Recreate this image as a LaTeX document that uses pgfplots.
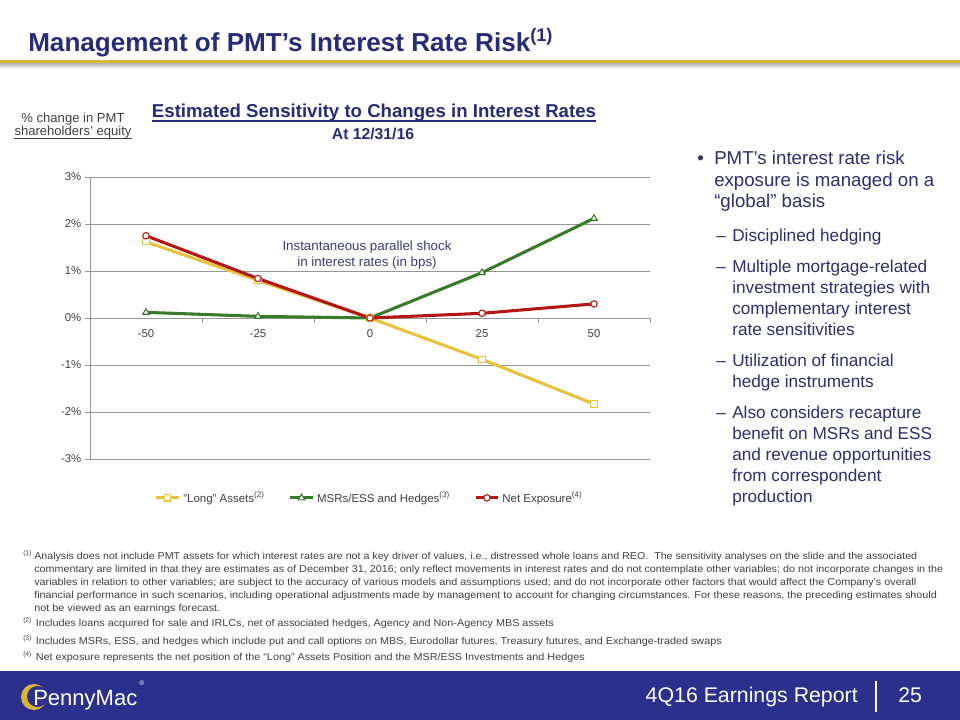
\documentclass[border=0pt]{standalone}
\usepackage{fontspec}
\setmainfont{Liberation Sans}
\usepackage{graphicx}
\usepackage{pgfplots}
\usepackage{pgfplotstable}
\pgfplotsset{compat=1.18}
\definecolor{navy}{RGB}{38,44,120}
\definecolor{band}{RGB}{44,48,140}
\definecolor{gold}{RGB}{218,183,50}
\definecolor{txtnavy}{RGB}{45,47,110}
\definecolor{fn}{RGB}{64,64,64}
\definecolor{lyellow}{RGB}{232,194,60}
\definecolor{lgreen}{RGB}{56,124,42}
\definecolor{lred}{RGB}{180,22,22}
\definecolor{gridc}{RGB}{150,150,150}
\definecolor{annot}{RGB}{60,60,120}
\newcommand\fitw[2]{\resizebox{#1}{\height}{#2}}
\newcommand\fnline[3]{\node[anchor=base west, inner sep=0, text=fn] at (#1) {\fitw{#2}{\fontsize{7.5}{9}\selectfont #3}};}
\newcommand\fnmark[2]{\node[anchor=base west, inner sep=0, text=fn] at (#1) {\fontsize{5}{6}\selectfont #2};}
\newcommand\bl[2]{\node[anchor=base west, inner sep=0, text=txtnavy] at (#1) {\fontsize{14}{16}\selectfont #2};}
\newcommand\sbl[2]{\node[anchor=base west, inner sep=0, text=txtnavy] at (#1) {\fontsize{12.9}{15}\selectfont #2};}
\pgfplotstableread{
x long msr net
-50 1.62 0.12 1.75
-25 0.80 0.035 0.84
0 0 0 0
25 -0.88 0.965 0.10
50 -1.83 2.12 0.30
}\datatab
\begin{document}
\begin{tikzpicture}[x=0.75pt,y=-0.75pt]
\fill[white] (0,0) rectangle (960,720);
% title
\node[anchor=base west, inner sep=0, text=navy] at (28,52) {\fitw{376.5pt}{\bfseries\fontsize{19.5}{23}\selectfont Management of PMT’s Interest Rate Risk}\bfseries\fontsize{19.5}{23}\selectfont\textsuperscript{(1)}};
\fill[gold] (0,60) rectangle (960,63.5);
\shade[top color=gray!55, bottom color=white] (0,63.5) rectangle (960,68.5);
% chart headings
\node[anchor=base, inner sep=0, text=navy] at (374,118) {\fitw{333pt}{\bfseries\fontsize{14}{16}\selectfont Estimated Sensitivity to Changes in Interest Rates}};
\draw[navy, line width=0.9pt] (152,121) -- (596,121);
\node[anchor=base, inner sep=0, text=navy] at (373,140) {\bfseries\fontsize{11.8}{14}\selectfont At 12/31/16};
\node[anchor=base, inner sep=0, text=fn] at (73,123) {\fontsize{9.8}{12}\selectfont \% change in PMT};
\node[anchor=base, inner sep=0, text=fn] at (73,136) {\fontsize{9.8}{12}\selectfont shareholders’ equity};
\draw[fn, line width=0.6pt] (14,138.5) -- (132,138.5);
% chart
\begin{axis}[
  at={(67.5pt,-344.25pt)}, anchor=south west, scale only axis,
  width=420pt, height=211.5pt,
  xmin=-62.5, xmax=62.5, ymin=-3, ymax=3,
  axis x line*=middle, axis y line*=left,
  axis line style={gridc, line width=0.75pt, -},
  hide obscured x ticks=false, hide obscured y ticks=false,
  xtick={-50,-25,0,25,50}, xticklabels={-50,-25,0,25,50},
  ytick={-3,-2,-1,0,1,2,3}, yticklabels={-3\%,-2\%,-1\%,0\%,1\%,2\%,3\%},
  minor xtick={-62.5,-37.5,-12.5,12.5,37.5,62.5},
  minor ytick={-3,-2,-1,0,1,2,3},
  major tick length=0pt, minor tick length=3.5pt, tick align=outside,
  tick style={gridc, line width=0.75pt},
  ymajorgrids, grid style={gridc, line width=0.75pt},
  ticklabel style={font=\fontsize{8.5}{10}\selectfont, text=fn},
  xticklabel style={yshift=-5pt},
  yticklabel style={xshift=-3pt},
  clip=false,
  legend style={at={(0.5,-0.138)}, anchor=center, draw=none, fill=none,
    font=\fontsize{8.6}{10}\selectfont, text=fn,
    /tikz/every even column/.append style={column sep=16pt}},
  legend columns=3, legend cell align=left,
]
\addplot[lyellow, line width=2.3pt, mark=square*, mark size=2.3pt, mark options={fill=white, line width=0.8pt}] table[x=x,y=long]{\datatab};
\addlegendentry{"Long" Assets\textsuperscript{(2)}}
\addplot[lgreen, line width=2.3pt, mark=triangle*, mark size=2.8pt, mark options={fill=white, line width=0.8pt}] table[x=x,y=msr]{\datatab};
\addlegendentry{MSRs/ESS and Hedges\textsuperscript{(3)}}
\addplot[lred, line width=2.3pt, mark=*, mark size=2.4pt, mark options={fill=white, line width=0.8pt}] table[x=x,y=net]{\datatab};
\addlegendentry{Net Exposure\textsuperscript{(4)}}
\end{axis}
\node[anchor=base, inner sep=0, text=annot] at (367,251) {\fontsize{10}{12}\selectfont Instantaneous parallel shock};
\node[anchor=base, inner sep=0, text=annot] at (367,267) {\fontsize{10}{12}\selectfont in interest rates (in bps)};
% bullets
\node[anchor=base west, inner sep=0, text=txtnavy] at (697,165) {\fontsize{14}{16}\selectfont •};
\bl{714,165}{PMT’s interest rate risk}
\bl{714,186.5}{exposure is managed on a}
\bl{714,208}{“global” basis}
\sbl{716,241.7}{–}\sbl{732,241.7}{Disciplined hedging}
\sbl{716,272.7}{–}\sbl{732,272.7}{Multiple mortgage-related}
\sbl{732,293.5}{investment strategies with}
\sbl{732,314.5}{complementary interest}
\sbl{732,335.7}{rate sensitivities}
\sbl{716,366}{–}\sbl{732,366}{Utilization of financial}
\sbl{732,387.3}{hedge instruments}
\sbl{716,418.3}{–}\sbl{732,418.3}{Also considers recapture}
\sbl{732,439.3}{benefit on MSRs and ESS}
\sbl{732,460.3}{and revenue opportunities}
\sbl{732,481.5}{from correspondent}
\sbl{732,502.3}{production}
% footnotes
\fnmark{23,555}{(1)}
\fnline{34,559}{662.25pt}{Analysis does not include PMT assets for which interest rates are not a key driver of values, i.e., distressed whole loans and REO.\ \ The sensitivity analyses on the slide and the associated}
\fnline{34,572}{681.75pt}{commentary are limited in that they are estimates as of December 31, 2016; only reflect movements in interest rates and do not contemplate other variables; do not incorporate changes in the}
\fnline{34,585.5}{661.5pt}{variables in relation to other variables; are subject to the accuracy of various models and assumptions used; and do not incorporate other factors that would affect the Company’s overall}
\fnline{34,598.5}{677pt}{financial performance in such scenarios, including operational adjustments made by management to account for changing circumstances. For these reasons, the preceding estimates should}
\fnline{34,611.5}{139.5pt}{not be viewed as an earnings forecast.}
\fnmark{23,622.5}{(2)}
\fnline{35.5,626.5}{388.5pt}{Includes loans acquired for sale and IRLCs, net of associated hedges, Agency and Non-Agency MBS assets}
\fnmark{23,640}{(3)}
\fnline{35.5,644}{514.5pt}{Includes MSRs, ESS, and hedges which include put and call options on MBS, Eurodollar futures, Treasury futures, and Exchange-traded swaps}
\fnmark{23,656.5}{(4)}
\fnline{35.5,660.5}{411.75pt}{Net exposure represents the net position of the “Long” Assets Position and the MSR/ESS Investments and Hedges}
% footer
\fill[band] (0,671) rectangle (960,720);
\node[anchor=base east, inner sep=0, text=white] at (858,702) {\fitw{159pt}{\fontsize{15.9}{18}\selectfont 4Q16 Earnings Report}};
\draw[white, line width=1.2pt] (876,681) -- (876,712);
\node[anchor=base west, inner sep=0, text=white] at (898,702) {\fontsize{15.9}{18}\selectfont 25};
% logo
\fill[gold] (34,697) circle (13);
\fill[band] (37.5,696.5) circle (10.5);
\node[anchor=base west, inner sep=0, text=white] at (33,705) {\fitw{78pt}{\fontsize{16.5}{19}\selectfont PennyMac}};
\node[anchor=base west, inner sep=0, text=white] at (139,685) {\fontsize{5}{6}\selectfont ®};
\end{tikzpicture}
\end{document}
